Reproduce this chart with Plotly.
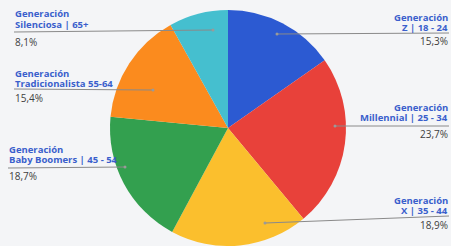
import plotly.graph_objects as go

# ---- data ----
categories = ["Z | 18 - 24", "Millennial | 25 - 34", "X | 35 - 44",
              "Baby Boomers | 45 - 54", "Tradicionalista 55-64", "Silenciosa | 65+"]
values = [15.3, 23.7, 18.9, 18.7, 15.4, 8.1]
colors = ["#2c5ad2", "#e8413a", "#fbbf2d", "#33a04f", "#fb8b1e", "#45bfcf"]

W, H = 451, 246
def px(x): return x / W
def py(y): return 1 - y / H

fig = go.Figure(go.Pie(
    labels=categories, values=values, sort=False, direction="clockwise",
    rotation=0, textinfo="none", hoverinfo="label+percent",
    marker=dict(colors=colors, line=dict(width=0)),
    domain=dict(x=[0.2, 0.811], y=[0, 236 / 246]),
    showlegend=False,
))

# label layout: (side, text x, line1 y, line2 y, rule (x0,y0,x1,y1), pct y)
label_pos = {
    5: ("left", 14, 14, 24.5, (14, 32, 213, 30), 42),
    0: ("right", 449, 18, 27.5, (277, 34, 449, 33), 40.5),
    4: ("left", 14, 73.5, 83, (14, 89, 153, 90), 97.5),
    1: ("right", 449, 107, 117.5, (335, 126, 449, 126), 134),
    3: ("left", 8, 149, 159.5, (8, 168, 125, 167), 175.5),
    2: ("right", 449, 200.5, 210, (265, 223, 449, 216), 224.5),
}

title_font = dict(family="Open Sans", size=9.5, color="#3a5fcc")
pct_font = dict(family="Open Sans", size=10, color="#404040")

annotations, shapes = [], []
for i, (side, tx, y1t, y2t, (x0, y0, x1, y1), pcty) in label_pos.items():
    anchor = "left" if side == "left" else "right"
    for txt, yy in (("Generación", y1t), (categories[i], y2t)):
        annotations.append(dict(
            x=px(tx), y=py(yy), xref="paper", yref="paper", xanchor=anchor, yanchor="middle",
            text="<b>" + txt + "</b>", showarrow=False, font=title_font, borderpad=0,
        ))
    annotations.append(dict(
        x=px(tx), y=py(pcty), xref="paper", yref="paper", xanchor=anchor, yanchor="middle",
        text=f"{values[i]:.1f}%".replace(".", ","), showarrow=False, font=pct_font, borderpad=0,
    ))
    shapes.append(dict(type="line", xref="paper", yref="paper",
                       x0=px(x0), y0=py(y0), x1=px(x1), y1=py(y1),
                       line=dict(color="#8a8a8a", width=1)))
    ex = x1 if side == "left" else x0
    ey = y1 if side == "left" else y0
    shapes.append(dict(type="circle", xref="paper", yref="paper",
                       x0=px(ex - 1.5), x1=px(ex + 1.5), y0=py(ey - 1.5), y1=py(ey + 1.5),
                       fillcolor="#9a9a9a", line=dict(width=0)))

fig.update_layout(
    width=W, height=H, margin=dict(l=0, r=0, t=0, b=0),
    paper_bgcolor="#f4f5f7", plot_bgcolor="#f4f5f7",
    annotations=annotations, shapes=shapes,
)
fig.write_html("out.html", config={"displayModeBar": False},
               post_script="document.body.style.margin='0';")
